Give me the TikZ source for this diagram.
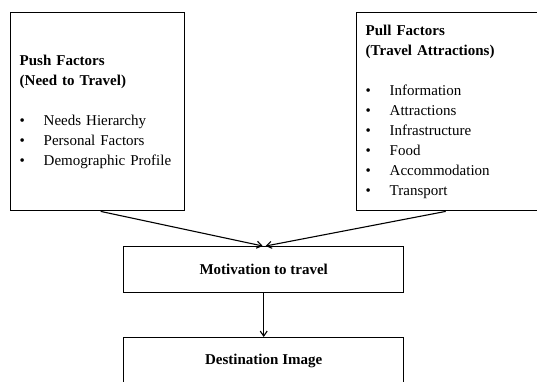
\documentclass[tikz,border=0pt]{standalone}
\usepackage{fontspec}
\setmainfont{Liberation Serif}
\usetikzlibrary{arrows.meta}

\newcommand{\factoritem}[1]{\makebox[24pt][l]{\textbullet}#1}

\begin{document}
\begin{tikzpicture}[x=1pt,y=-1pt,
  factorbox/.style={draw,line width=1.4pt,align=left,anchor=north west,inner xsep=9pt,font=\fontsize{15}{20}\selectfont},
  stagebox/.style={draw,line width=1.4pt,minimum width=280pt,minimum height=46pt,anchor=north west,font=\fontsize{15}{20}\selectfont\bfseries},
  flow/.style={line width=1.1pt,-{Straight Barb[length=5pt,width=7pt]}}]

\useasboundingbox (0,0) rectangle (537,381);

\node (push) at (10,12) [factorbox,text width=156pt,minimum width=174pt,minimum height=198pt]
{\textbf{Push Factors}\\ \textbf{(Need to Travel)}\\[20pt]
\factoritem{Needs Hierarchy}\\ \factoritem{Personal Factors}\\ \factoritem{Demographic Profile}};

\node (pull) at (356,12) [factorbox,text width=164pt,minimum width=182pt,minimum height=198pt]
{\textbf{Pull Factors}\\ \textbf{(Travel Attractions)}\\[20pt]
\factoritem{Information}\\ \factoritem{Attractions}\\ \factoritem{Infrastructure}\\
\factoritem{Food}\\ \factoritem{Accommodation}\\ \factoritem{Transport}};

\node (motive) at (123,246) [stagebox] {Motivation to travel};
\node (dest) at (123,337) [stagebox] {Destination Image};

\draw [flow] ([xshift=3pt]push.south) -- ([xshift=-1pt]motive.north);
\draw [flow] ([xshift=-2pt]pull.south) -- ([xshift=2pt]motive.north);
\draw [flow] (motive.south) -- (dest.north);

\end{tikzpicture}
\end{document}
